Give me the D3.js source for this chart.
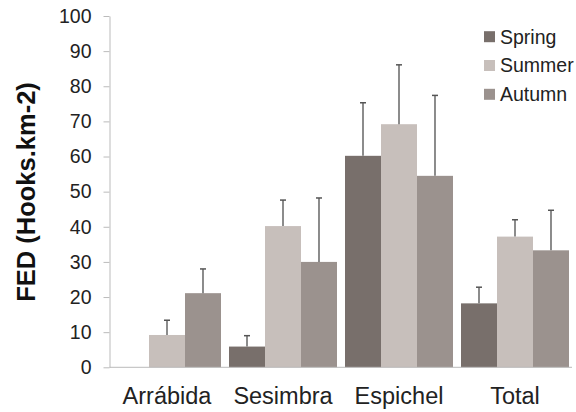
<!DOCTYPE html>
<html>
<head>
<meta charset="utf-8">
<script src="https://cdn.jsdelivr.net/npm/d3@7/dist/d3.min.js"></script>
<style>
  html, body { margin: 0; padding: 0; background: #fff; }
  svg { display: block; font-family: "Liberation Sans", Arial, sans-serif; }
</style>
</head>
<body>
<svg id="chart" width="576" height="412"></svg>
<script>
// Fishing effort density by site and season
const sites = ["Arrábida", "Sesimbra", "Espichel", "Total"];
const seasons = ["Spring", "Summer", "Autumn"];
const spring = [0, 5.9, 60.2, 18.2];
const summer = [9.2, 40.2, 69.2, 37.2];
const autumn = [21.1, 30.0, 54.5, 33.3];
// upper limits of the error bars (mean + SD)
const springErr = [null, 9.0, 75.3, 22.8];
const summerErr = [13.4, 47.6, 86.1, 42.0];
const autumnErr = [28.0, 48.2, 77.4, 44.7];
const yTicks = [0, 10, 20, 30, 40, 50, 60, 70, 80, 90, 100];
const colors = ["#786f6b", "#c7bfbb", "#9b928e"];

const values = [spring, summer, autumn];
const errs = [springErr, summerErr, autumnErr];

const svg = d3.select("#chart");

const x = d3.scaleBand().domain(sites).range([109, 573])
  .paddingInner(0.069).paddingOuter(0.0345);
const xs = d3.scaleBand().domain(seasons).range([0, x.bandwidth()]);
const y = d3.scaleLinear().domain([0, 100]).range([367.3, 16]);

// bars
seasons.forEach((s, si) => {
  const g = svg.append("g");
  sites.forEach((site, i) => {
    const v = values[si][i];
    if (v > 0) {
      g.append("rect")
        .attr("x", x(site) + xs(s))
        .attr("y", y(v))
        .attr("width", xs.bandwidth())
        .attr("height", y(0) - y(v))
        .attr("fill", colors[si]);
    }
  });
});

// error bars (upper only)
seasons.forEach((s, si) => {
  sites.forEach((site, i) => {
    const e = errs[si][i];
    if (e == null) return;
    const cx = x(site) + xs(s) + xs.bandwidth() / 2;
    svg.append("line")
      .attr("x1", cx).attr("x2", cx)
      .attr("y1", y(values[si][i])).attr("y2", y(e))
      .attr("stroke", "#666").attr("stroke-width", 1.5);
    svg.append("line")
      .attr("x1", cx - 3).attr("x2", cx + 3)
      .attr("y1", y(e)).attr("y2", y(e))
      .attr("stroke", "#555").attr("stroke-width", 1.5);
  });
});

// y axis
const yAxis = svg.append("g")
  .attr("transform", "translate(109.5,0)")
  .call(d3.axisLeft(y).tickValues(yTicks).tickSize(6).tickSizeOuter(0).tickPadding(12));
yAxis.select(".domain").attr("stroke", "#bbb");
yAxis.selectAll(".tick line").attr("stroke", "#bbb");
yAxis.selectAll(".tick text")
  .attr("fill", "#222").attr("font-size", 19.5)
  .attr("font-family", "Liberation Sans, Arial, sans-serif");

// x axis baseline and labels
const xAxis = svg.append("g")
  .attr("transform", `translate(0,${y(0)})`)
  .call(d3.axisBottom(x).tickSize(0).tickPadding(20).tickSizeOuter(0));
xAxis.select(".domain").attr("stroke", "#bbb").attr("d", `M109.5,0H572`);
xAxis.selectAll(".tick text")
  .attr("fill", "#222").attr("font-size", 23.5)
  .attr("font-family", "Liberation Sans, Arial, sans-serif");

// y axis title
svg.append("text")
  .attr("transform", "translate(35,192) rotate(-90)")
  .attr("text-anchor", "middle")
  .attr("font-size", 25.5).attr("font-weight", "bold").attr("fill", "#111")
  .text("FED (Hooks.km-2)");

// legend
const legend = svg.append("g");
seasons.forEach((s, si) => {
  const cy = 36.7 + si * 28.8;
  legend.append("rect")
    .attr("x", 484).attr("y", cy - 5.5).attr("width", 11).attr("height", 11)
    .attr("fill", colors[si]);
  legend.append("text")
    .attr("x", 500).attr("y", cy).attr("dy", "0.35em")
    .attr("font-size", 19.5).attr("fill", "#222")
    .text(s);
});
</script>
</body>
</html>
